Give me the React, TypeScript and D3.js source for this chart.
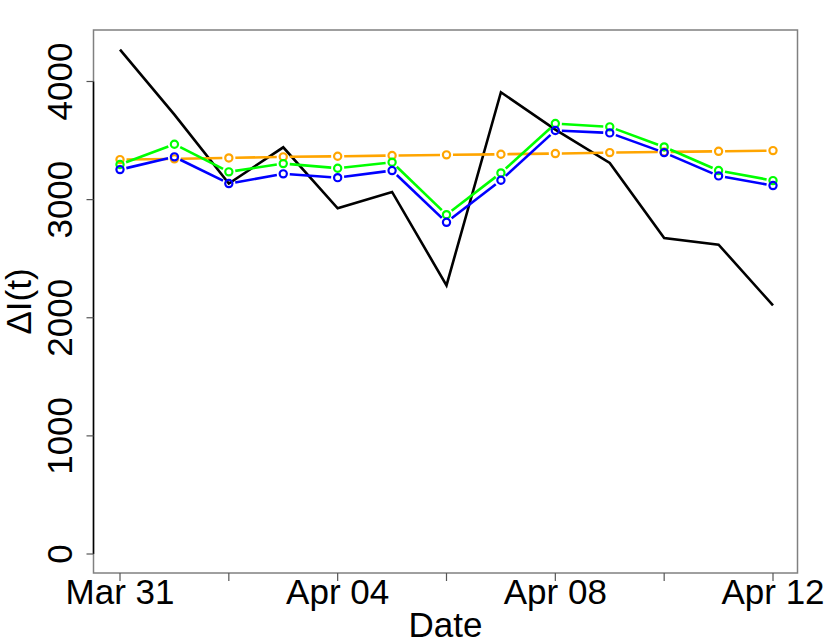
import React from "react";
import * as d3 from "d3";

const dates: string[] = [
  "2020-03-31", "2020-04-01", "2020-04-02", "2020-04-03", "2020-04-04", "2020-04-05", "2020-04-06",
  "2020-04-07", "2020-04-08", "2020-04-09", "2020-04-10", "2020-04-11", "2020-04-12",
];
const observed: number[] = [4270, 3720, 3136, 3443, 2926, 3065, 2274, 3909, 3593, 3311, 2675, 2619, 2104];
const orangeSeries: number[] = [3339, 3345, 3353, 3362, 3367, 3373, 3379, 3384, 3390, 3398, 3404, 3409, 3415];
const greenSeries: number[] = [3297, 3469, 3235, 3305, 3266, 3316, 2873, 3226, 3644, 3616, 3446, 3246, 3161];
const blueSeries: number[] = [3254, 3362, 3136, 3218, 3186, 3246, 2808, 3164, 3585, 3565, 3398, 3201, 3119];
const yTicks: number[] = [0, 1000, 2000, 3000, 4000];
const xMajorTicks: string[] = ["2020-03-31", "2020-04-04", "2020-04-08", "2020-04-12"];
const xMinorTicks: string[] = ["2020-04-02", "2020-04-06", "2020-04-10"];

const W = 830;
const H = 642;
const plot = { left: 93.5, right: 797.5, top: 30, bottom: 573 };
const FONT = "'Liberation Sans', Arial, Helvetica, sans-serif";
const FS = 35;

const parse = d3.utcParse("%Y-%m-%d");
const fmt = d3.utcFormat("%b %d");

export default function App() {
  const dts = dates.map((d) => parse(d) as Date);
  const x = d3
    .scaleUtc()
    .domain([dts[0], dts[dts.length - 1]])
    .range([120, 773]);
  const y = d3.scaleLinear().domain([0, 4000]).range([554, 81.5]);

  const line = d3
    .line<number>()
    .x((_, i) => x(dts[i]))
    .y((v) => y(v));

  const gap = 6.5;
  const segs = (vals: number[]) => {
    const out: { x1: number; y1: number; x2: number; y2: number }[] = [];
    for (let i = 0; i < vals.length - 1; i++) {
      const ax = x(dts[i]);
      const ay = y(vals[i]);
      const bx = x(dts[i + 1]);
      const by = y(vals[i + 1]);
      const dx = bx - ax;
      const dy = by - ay;
      const L = Math.hypot(dx, dy);
      if (L <= 2 * gap) continue;
      const ux = dx / L;
      const uy = dy / L;
      out.push({ x1: ax + ux * gap, y1: ay + uy * gap, x2: bx - ux * gap, y2: by - uy * gap });
    }
    return out;
  };

  const pointSeries = [
    { vals: orangeSeries, color: "#FFA500" },
    { vals: greenSeries, color: "#00FF00" },
    { vals: blueSeries, color: "#0000FF" },
  ];

  return (
    <svg
      width={W}
      height={H}
      style={{ position: "absolute", left: 0, top: 0, background: "#fff" }}
      fontFamily={FONT}
    >
      <rect x={0} y={0} width={W} height={H} fill="#fff" />
      <path d={line(observed) || ""} fill="none" stroke="#000" strokeWidth={2.6} strokeLinejoin="miter" />
      {pointSeries.map((s, si) => (
        <g key={si}>
          {segs(s.vals).map((sg, i) => (
            <line key={i} {...sg} stroke={s.color} strokeWidth={2.6} />
          ))}
          {s.vals.map((v, i) => (
            <circle key={i} cx={x(dts[i])} cy={y(v)} r={3.6} fill="none" stroke={s.color} strokeWidth={2.2} />
          ))}
        </g>
      ))}
      {/* box */}
      <rect
        x={plot.left}
        y={plot.top}
        width={plot.right - plot.left}
        height={plot.bottom - plot.top}
        fill="none"
        stroke="#808080"
        strokeWidth={1.5}
      />
      {/* y axis */}
      <line x1={plot.left} x2={plot.left} y1={y(0)} y2={y(4000)} stroke="#000" strokeWidth={1.5} />
      {yTicks.map((t) => (
        <g key={t}>
          <line x1={plot.left - 7} x2={plot.left} y1={y(t)} y2={y(t)} stroke="#555" strokeWidth={1.2} />
          <text
            transform={`translate(72,${y(t)}) rotate(-90)`}
            textAnchor="middle"
            fontSize={FS}
            fill="#000"
          >
            {t}
          </text>
        </g>
      ))}
      {/* x axis ticks */}
      {xMajorTicks.map((t) => {
        const d = parse(t) as Date;
        return (
          <g key={t}>
            <line x1={x(d)} x2={x(d)} y1={plot.bottom} y2={plot.bottom + 8} stroke="#555" strokeWidth={1.2} />
            <text x={x(d)} y={604} textAnchor="middle" fontSize={FS} fill="#000">
              {fmt(d)}
            </text>
          </g>
        );
      })}
      {xMinorTicks.map((t) => {
        const d = parse(t) as Date;
        return <line key={t} x1={x(d)} x2={x(d)} y1={plot.bottom} y2={plot.bottom + 8} stroke="#555" strokeWidth={1.2} />;
      })}
      <text x={(plot.left + plot.right) / 2} y={637} textAnchor="middle" fontSize={FS} fill="#000">
        Date
      </text>
      <text
        transform={`translate(31,${(plot.top + plot.bottom) / 2}) rotate(-90)`}
        textAnchor="middle"
        fontSize={FS}
        fill="#000"
      >
        ΔI(t)
      </text>
    </svg>
  );
}
